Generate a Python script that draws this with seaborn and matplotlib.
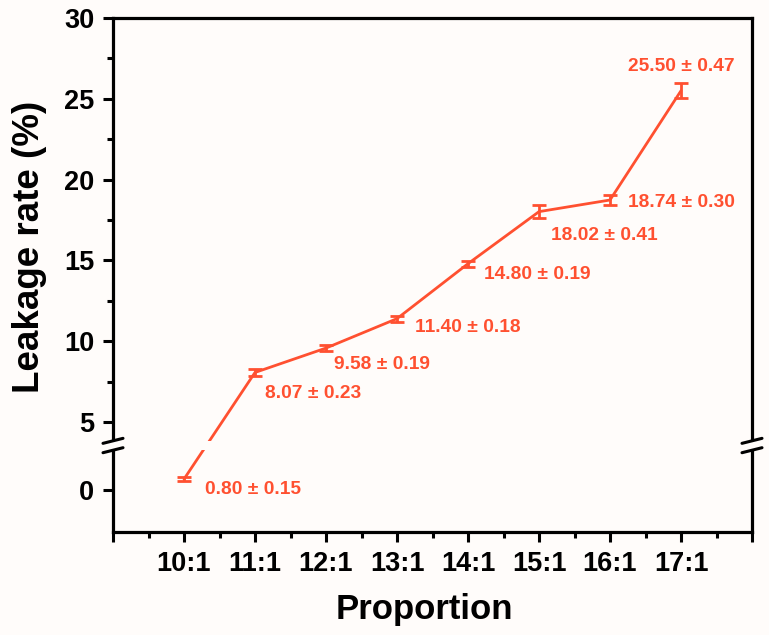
import numpy as np
import pandas as pd
import matplotlib
matplotlib.use("Agg")
import matplotlib.pyplot as plt
import matplotlib.transforms as mtrans
from matplotlib.patches import Rectangle
from matplotlib.lines import Line2D
import seaborn as sns

# ---- data ----
categories = ["10:1", "11:1", "12:1", "13:1", "14:1", "15:1", "16:1", "17:1"]
positions = [10, 11, 12, 13, 14, 15, 16, 17]
leakage = [0.80, 8.07, 9.58, 11.40, 14.80, 18.02, 18.74, 25.50]
errors = [0.15, 0.23, 0.19, 0.18, 0.19, 0.41, 0.30, 0.47]
ytick_values = [0, 5, 10, 15, 20, 25, 30]
yminor_values = [7.5, 12.5, 17.5, 22.5, 27.5]

# label offsets in pixels (dx, dy) and alignment
label_offsets = [(21, -10), (10, -21), (8, -16), (18, -9), (16, -11), (12, -24), (18, -2), (0, 24)]
label_ha = ["left", "left", "left", "left", "left", "left", "left", "center"]

COLOR = "#FF5030"
BG = "#FFFCFA"

# broken-axis mapping: lower segment compressed/shifted, upper segment identity
BREAK = 3.0
def fy(v):
    v = np.asarray(v, dtype=float)
    return np.where(v < BREAK, 0.792 + 0.851 * v, v)

sns.set_theme(style="ticks")
plt.rcParams["font.family"] = ["Liberation Sans", "DejaVu Sans"]
plt.rcParams["font.weight"] = "bold"
plt.rcParams["text.color"] = "black"
plt.rcParams["axes.labelcolor"] = "black"

fig = plt.figure(figsize=(7.69, 6.35), dpi=100, facecolor=BG)
ax = fig.add_axes([113/769, 1 - 532/635, 639/769, 514/635])
ax.set_facecolor(BG)

df = pd.DataFrame({"x": positions, "y": fy(leakage)})
sns.lineplot(data=df, x="x", y="y", ax=ax, color=COLOR, lw=2, zorder=2)

lo = fy(np.array(leakage) - np.array(errors))
hi = fy(np.array(leakage) + np.array(errors))
ax.errorbar(positions, fy(leakage), yerr=[fy(leakage) - lo, hi - fy(leakage)],
            fmt="none", ecolor=COLOR, elinewidth=2, capsize=4.7, capthick=2, zorder=3)

for xv, yv, e, (dx, dy), ha in zip(positions, leakage, errors, label_offsets, label_ha):
    ax.annotate(f"{yv:.2f} ± {e:.2f}", xy=(xv, float(fy(yv))), xytext=(dx, dy),
                textcoords="offset pixels", ha=ha, va="center",
                color=COLOR, fontsize=13.8, fontweight="bold")

ax.set_xlim(9, 18)
ax.set_ylim(-1.8, 30)

ax.set_xticks(range(9, 19))
ax.set_xticklabels([""] + categories + [""])
ax.set_xticks(np.arange(9.5, 18, 1.0), minor=True)
ax.set_yticks(fy(ytick_values))
ax.set_yticklabels([str(v) for v in ytick_values])
ax.set_yticks(fy(yminor_values), minor=True)

for s in ["left", "right", "top", "bottom"]:
    ax.spines[s].set_visible(True)
    ax.spines[s].set_linewidth(2.3)
    ax.spines[s].set_color("black")

ax.tick_params(axis="both", which="major", direction="out", length=7.5, width=2.2,
               color="black", labelsize=19.5, labelcolor="black")
ax.tick_params(axis="x", which="major", length=7.5, pad=6)
ax.tick_params(axis="y", which="major", pad=6)
ax.tick_params(axis="both", which="minor", direction="out", length=4, width=2.2, color="black")
for lab in ax.get_xticklabels() + ax.get_yticklabels():
    lab.set_fontweight("bold")

ax.set_xlabel("Proportion", fontsize=25, fontweight="bold", color="black")
ax.set_ylabel("Leakage rate (%)", fontsize=26.5, fontweight="bold", color="black")
ax.xaxis.set_label_coords(0.487, -0.118)
ax.yaxis.set_label_coords(-0.103, 0.554)

# break marks
blend = mtrans.blended_transform_factory(ax.transAxes, ax.transData)
ygap_lo, ygap_hi = 3.26, 3.84
ax.add_patch(Rectangle((-0.01, ygap_lo), 1.02, ygap_hi - ygap_lo, transform=blend,
                       facecolor=BG, edgecolor="none", clip_on=False, zorder=5))
dxa = 10 / 639
dya = 2.5 / 16.16
for xs in (0.0, 1.0):
    for yc in (ygap_lo, ygap_hi):
        ax.add_line(Line2D([xs - dxa, xs + dxa], [yc - dya, yc + dya], transform=blend,
                           color="black", lw=2.2, clip_on=False, zorder=6))

fig.savefig("out.png", dpi=100, facecolor=BG)
